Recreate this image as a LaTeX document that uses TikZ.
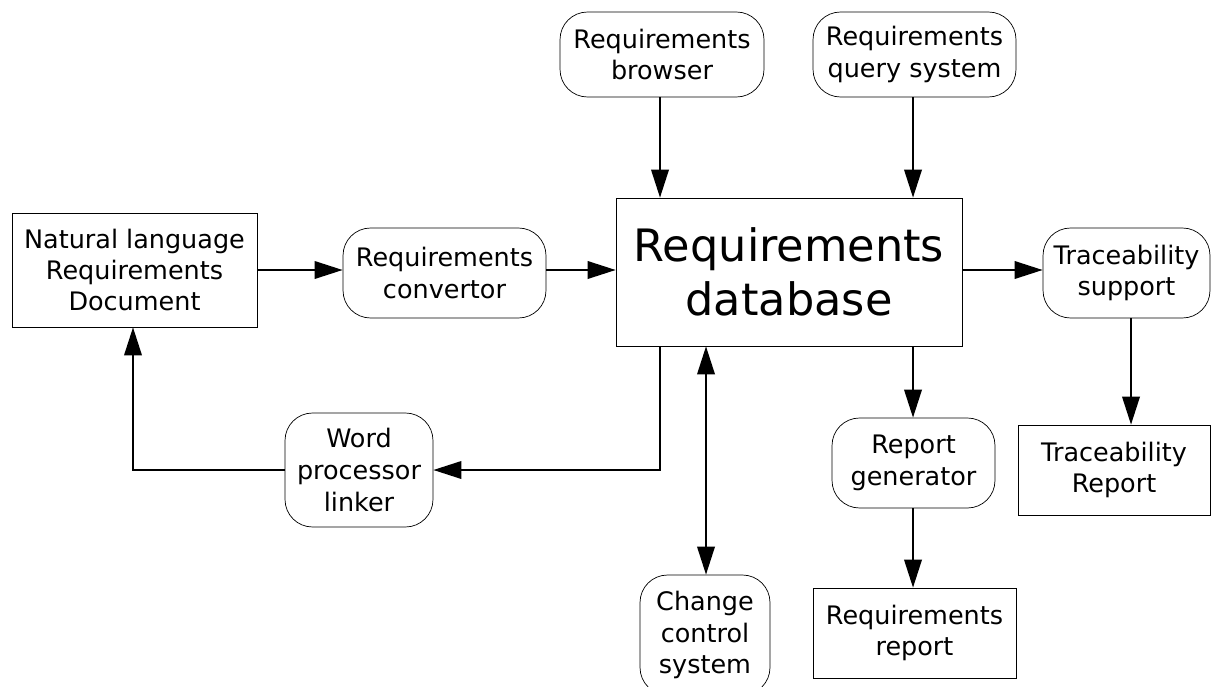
\documentclass[tikz,border=0pt]{standalone}
\usepackage{fontspec}
\setmainfont{DejaVu Sans}
\usetikzlibrary{arrows.meta}

\tikzset{
  proc/.style={draw, rounded corners=0.55cm, align=center, inner sep=0pt, font=\fontsize{14.5}{18}\selectfont},
  store/.style={draw, align=center, inner sep=0pt, font=\fontsize{14.5}{17.5}\selectfont},
  flow/.style={line width=1.1pt, -{Triangle[length=16pt, width=10pt]}}
}

\begin{document}
\begin{tikzpicture}[x=0.02cm, y=-0.02cm]
\useasboundingbox (0,0) rectangle (1216,686);

\node[store, minimum width=4.9cm, minimum height=2.28cm] (NL) at (134.5,270) {Natural language\\Requirements\\Document};
\node[proc, minimum width=4.06cm, minimum height=1.8cm] (RC) at (444.5,273) {Requirements\\convertor};
\node[store, minimum width=6.92cm, minimum height=2.96cm, font=\fontsize{25.4}{31}\selectfont] (DB) at (789,272) {Requirements\\database};
\node[proc, minimum width=4.08cm, minimum height=1.7cm] (RB) at (662,54.5) {Requirements\\browser};
\node[proc, minimum width=4.06cm, minimum height=1.7cm] (RQ) at (914.5,54.5) {Requirements\\query system};
\node[proc, minimum width=3.34cm, minimum height=1.8cm] (TS) at (1126.5,273) {Traceability\\support};
\node[store, minimum width=3.84cm, minimum height=1.8cm] (TR) at (1114,470) {Traceability\\Report};
\node[proc, minimum width=3.26cm, minimum height=1.8cm] (RG) at (913.5,463) {Report\\generator};
\node[store, minimum width=4.06cm, minimum height=1.8cm] (RR) at (914.5,633) {Requirements\\report};
\node[proc, minimum width=2.6cm, minimum height=2.4cm] (CC) at (705,635) {Change\\control\\system};
\node[proc, minimum width=2.96cm, minimum height=2.28cm] (WP) at (359,470) {Word\\processor\\linker};

% helper columns
\coordinate (cB) at (660,0);
\coordinate (cQ) at (913,0);
\coordinate (cT) at (1131,0);
\coordinate (cC) at (706,0);
\coordinate (cN) at (133,0);

\draw[flow] (NL.east |- 0,270) -- (RC.west |- 0,270);
\draw[flow] (RC.east |- 0,270) -- (DB.west |- 0,270);
\draw[flow] (RB.south -| cB) -- (DB.north -| cB);
\draw[flow] (RQ.south -| cQ) -- (DB.north -| cQ);
\draw[flow] (DB.east |- 0,270) -- (TS.west |- 0,270);
\draw[flow] (TS.south -| cT) -- (TR.north -| cT);
\draw[flow] (DB.south -| cQ) -- (RG.north -| cQ);
\draw[flow] (RG.south -| cQ) -- (RR.north -| cQ);
\draw[flow, {Triangle[length=16pt, width=10pt]}-{Triangle[length=16pt, width=10pt]}] (DB.south -| cC) -- (CC.north -| cC);
\draw[flow] (DB.south -| cB) |- (WP.east);
\draw[flow] (WP.west) -| (NL.south -| cN);
\end{tikzpicture}
\end{document}
